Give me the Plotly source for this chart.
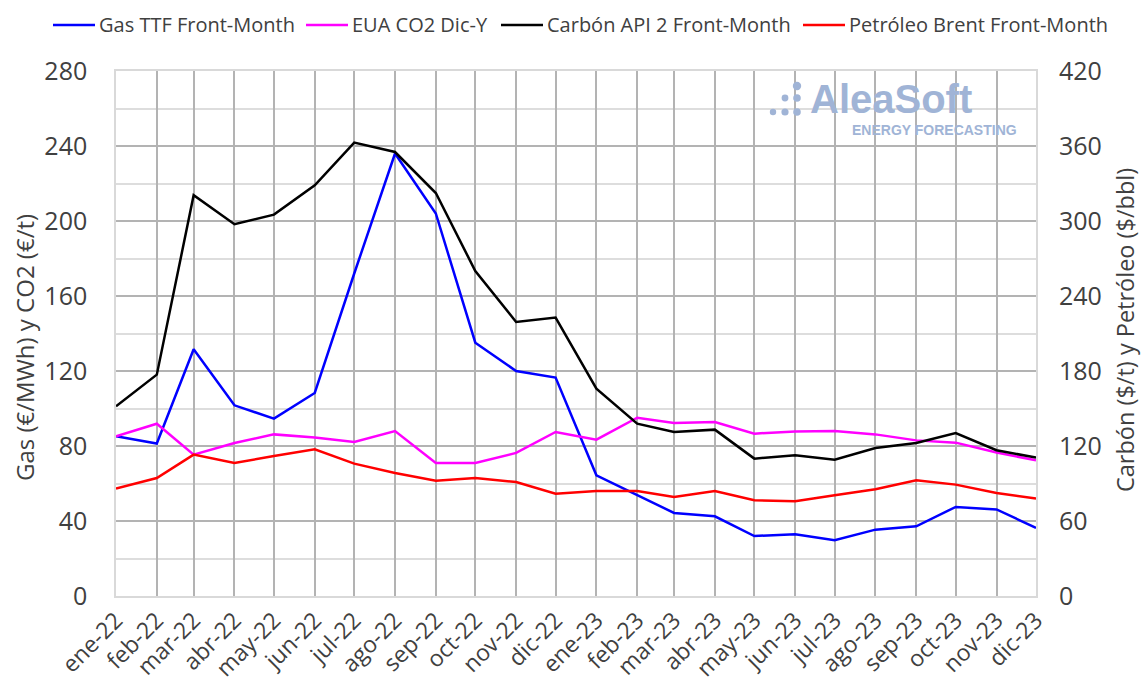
import plotly.graph_objects as go

months = ["2022-01-01", "2022-02-01", "2022-03-01", "2022-04-01", "2022-05-01", "2022-06-01",
          "2022-07-01", "2022-08-01", "2022-09-01", "2022-10-01", "2022-11-01", "2022-12-01",
          "2023-01-01", "2023-02-01", "2023-03-01", "2023-04-01", "2023-05-01", "2023-06-01",
          "2023-07-01", "2023-08-01", "2023-09-01", "2023-10-01", "2023-11-01", "2023-12-01"]
month_labels = ["ene-22", "feb-22", "mar-22", "abr-22", "may-22", "jun-22", "jul-22", "ago-22",
                "sep-22", "oct-22", "nov-22", "dic-22", "ene-23", "feb-23", "mar-23", "abr-23",
                "may-23", "jun-23", "jul-23", "ago-23", "sep-23", "oct-23", "nov-23", "dic-23"]

gas_ttf = [85.2, 81.3, 131.6, 101.7, 94.6, 108.3, 172.0, 236.0, 204.0, 135.1, 120.0, 116.5,
           64.4, 53.7, 44.3, 42.5, 32.0, 32.9, 29.7, 35.4, 37.2, 47.5, 46.2, 36.3]
eua_co2 = [85.2, 91.9, 75.4, 81.6, 86.2, 84.5, 82.1, 88.0, 70.9, 70.9, 76.3, 87.5,
           83.4, 95.1, 92.3, 92.8, 86.6, 87.8, 88.0, 86.2, 83.0, 81.8, 76.5, 72.4]
carbon_api2 = [151.8, 177.1, 320.6, 297.4, 305.1, 328.6, 362.7, 355.2, 322.4, 260.0, 219.2, 222.7,
               165.9, 137.9, 131.2, 133.1, 109.9, 112.6, 109.1, 118.4, 122.4, 130.4, 116.6, 110.7]
brent = [85.9, 94.4, 113.1, 106.4, 112.0, 117.4, 105.9, 98.4, 92.2, 94.4, 91.2, 81.9,
         84.0, 84.0, 79.2, 84.0, 76.6, 75.8, 80.6, 85.4, 92.6, 89.1, 82.4, 77.9]

series_names = ["Gas TTF Front-Month", "EUA CO2 Dic-Y", "Carbón API 2 Front-Month",
                "Petróleo Brent Front-Month"]
series_colors = ["#0000ff", "#ff00ff", "#000000", "#ff0000"]

left_ticks = [0, 40, 80, 120, 160, 200, 240, 280]
right_ticks = [0, 60, 120, 180, 240, 300, 360, 420]

FONT = "Open Sans"
TXT = "#404040"

fig = go.Figure()
series_values = [gas_ttf, eua_co2, carbon_api2, brent]
series_axes = ["y", "y", "y2", "y2"]
for name, vals, col, ax in zip(series_names, series_values, series_colors, series_axes):
    fig.add_trace(go.Scatter(x=months, y=vals, name=name, mode="lines",
                             line=dict(color=col, width=2.5), yaxis=ax, showlegend=False))

W, H = 1143, 686
L, R, T, B = 116, 107, 71, 90
pw = W - L - R
ph = H - T - B


def px(x):
    return (x - L) / pw


def py(y):
    return (H - B - y) / ph


fig.update_layout(
    width=W, height=H,
    margin=dict(l=L, r=R, t=T, b=B, autoexpand=False),
    paper_bgcolor="white", plot_bgcolor="white",
    font=dict(family=FONT, color=TXT, size=20),
    showlegend=False,
    xaxis=dict(
        type="date",
        range=[months[0], months[-1]],
        tickvals=months, ticktext=month_labels, tickangle=-45,
        tickfont=dict(size=23, color=TXT),
        showgrid=True, gridcolor="#b3b3b3", gridwidth=1.5,
        showline=True, linecolor="#d9d9d9", linewidth=1.5, mirror=True,
        ticks="", zeroline=False, automargin=False,
    ),
    yaxis=dict(
        range=[0, 280], tickvals=left_ticks,
        tickfont=dict(size=25, color=TXT),
        showgrid=True, gridcolor="#b3b3b3", gridwidth=1.5,
        minor=dict(dtick=20, showgrid=True, gridcolor="#dddddd", gridwidth=1.5),
        showline=True, linecolor="#d9d9d9", linewidth=1.5, mirror=True,
        zeroline=False, ticks="", ticklabelstandoff=22, automargin=False,
    ),
    yaxis2=dict(
        range=[0, 420], tickvals=right_ticks, overlaying="y", side="right",
        tickfont=dict(size=25, color=TXT),
        showgrid=False, zeroline=False, ticks="", ticklabelstandoff=22,
        showline=False, automargin=False,
    ),
)

# Legend (drawn manually to keep one row like the reference)
legend_line_x = [53, 306, 501, 803]
for name, col, lx in zip(series_names, series_colors, legend_line_x):
    fig.add_shape(type="line", xref="paper", yref="paper",
                  x0=px(lx), x1=px(lx + 42), y0=py(25), y1=py(25),
                  line=dict(color=col, width=2.5))
    fig.add_annotation(text=name, xref="paper", yref="paper",
                       x=px(lx + 44), y=py(25), xanchor="left", yanchor="middle",
                       showarrow=False, font=dict(size=20, color=TXT))

# Axis titles
fig.add_annotation(text="Gas (€/MWh) y CO2 (€/t)", xref="paper", yref="paper",
                   x=px(24), y=py(348), xanchor="center", yanchor="middle",
                   textangle=-90, showarrow=False, font=dict(size=24, color=TXT))
fig.add_annotation(text="Carbón ($/t) y Petróleo ($/bbl)", xref="paper", yref="paper",
                   x=px(1125), y=py(330), xanchor="center", yanchor="middle",
                   textangle=-90, showarrow=False, font=dict(size=23.5, color=TXT))

# Watermark logo
LOGO = "rgb(160,180,214)"
fig.add_annotation(text="<b>AleaSoft</b>", xref="paper", yref="paper",
                   x=px(891), y=py(99), xanchor="center", yanchor="middle",
                   showarrow=False, font=dict(family="Liberation Sans", size=40, color=LOGO))
fig.add_annotation(text="<b>ENERGY FORECASTING</b>", xref="paper", yref="paper",
                   x=px(934), y=py(130), xanchor="center", yanchor="middle",
                   showarrow=False, font=dict(family="Liberation Sans", size=14, color=LOGO))
dots = [(797, 86, 4.2), (797, 98, 3.8), (797, 112, 3.8), (785, 98, 3.4), (785, 112, 3.6), (773, 112, 3.2)]
for cx, cy, r in dots:
    fig.add_shape(type="circle", xref="paper", yref="paper",
                  x0=px(cx - r), x1=px(cx + r), y0=py(cy + r), y1=py(cy - r),
                  fillcolor=LOGO, line=dict(width=0), layer="above")

fig.write_html("out.html", config={"displayModeBar": False},
               post_script="document.body.style.margin='0';document.body.style.overflow='hidden';")
